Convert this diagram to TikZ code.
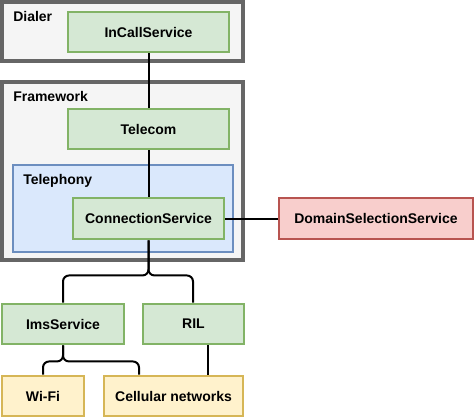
\documentclass[tikz,border=0pt]{standalone}
\usepackage{fontspec}
\setmainfont{Liberation Sans}
\usetikzlibrary{fit}
\definecolor{gfill}{HTML}{D5E8D4}
\definecolor{gline}{HTML}{82B366}
\definecolor{bfill}{HTML}{DAE8FC}
\definecolor{bline}{HTML}{6C8EBF}
\definecolor{rfill}{HTML}{F8CECC}
\definecolor{rline}{HTML}{B85450}
\definecolor{yfill}{HTML}{FFF2CC}
\definecolor{yline}{HTML}{D6B656}
\definecolor{cfill}{HTML}{F5F5F5}
\definecolor{cline}{HTML}{666666}
\begin{document}
\begin{tikzpicture}[x=0.75pt,y=-0.75pt,
  font=\fontsize{10.5}{12}\selectfont\bfseries,
  box/.style={inner sep=0pt, line width=2.2pt},
  wh/.style 2 args={minimum width=#1*0.75pt, minimum height=#2*0.75pt},
  contbox/.style={box, draw=cline, fill=cfill, line width=2.3pt},
  greenbox/.style={box, draw=gline, fill=gfill},
  bluebox/.style={box, draw=bline, fill=bfill},
  redbox/.style={box, draw=rline, fill=rfill},
  yellowbox/.style={box, draw=yline, fill=yfill},
  lbl/.style={anchor=base west, inner sep=0pt},
  conn/.style={line width=1.5pt, black, rounded corners=4.5pt}]
\useasboundingbox (0,0) rectangle (475,418);
% containers
\node[contbox, fit={(2,2) (243,61)}] (dialer) {};
\node[lbl] (dialerlbl) at (13,21) {Dialer};
\node[contbox, fit={(2,82) (243,260)}] (fw) {};
\node[lbl] (fwlbl) at (13,101) {Framework};
\node[bluebox, fit={(13,165) (233,252)}] (tel) {};
\node[lbl] (tellbl) at (23,184.5) {Telephony};
% nodes
\node[greenbox, wh={161}{40}] (ic) at (148.5,32) {InCallService};
\node[greenbox, wh={161}{40}] (tc) at (148.5,129) {Telecom};
\node[greenbox, wh={151}{41}] (cs) at (148.5,218.5) {ConnectionService};
\node[redbox, wh={194}{41}] (ds) at (376,218.5) {DomainSelectionService};
\node[greenbox, wh={122}{40}] (ims) at (63,324) {ImsService};
\node[greenbox, wh={101}{40}] (ril) at (193.5,324) {RIL};
\node[yellowbox, wh={82}{40}] (wifi) at (43,396) {Wi-Fi};
\node[yellowbox, wh={139}{40}] (cell) at (173.5,396) {Cellular networks};
% connectors
\draw[conn] (ic.south) -- (tc.north);
\draw[conn] (tc.south) -- (cs.north);
\draw[conn] (cs.east) -- (ds.west);
\draw[conn] (cs.south) -- ++(0,35) -| (ims.north);
\draw[conn] (cs.south) -- ++(0,35) -| (ril.north -| 193,0);
\draw[conn] (ims.south) -- ++(0,16) -| (wifi.north);
\draw[conn] (ims.south) -- ++(0,16) -| (cell.north -| 139,0);
\draw[conn] (ril.south -| 208,0) -- (cell.north -| 208,0);
\end{tikzpicture}
\end{document}
